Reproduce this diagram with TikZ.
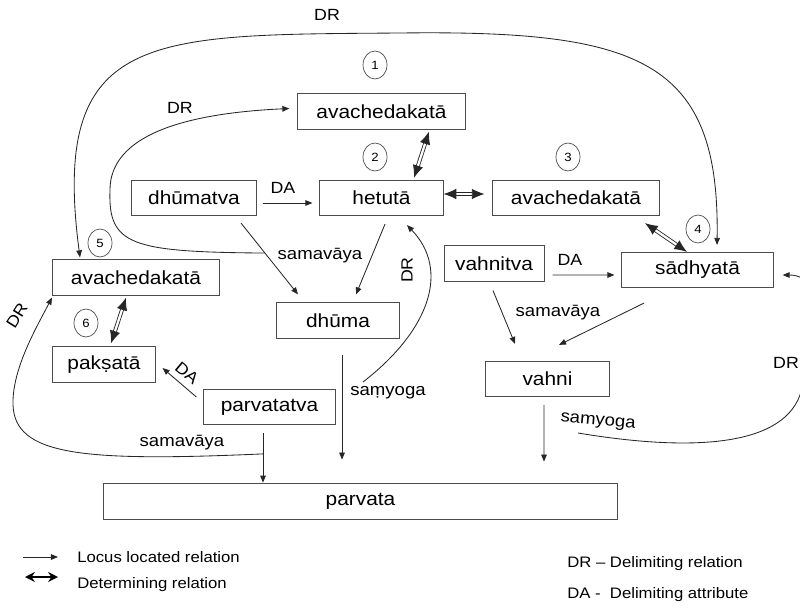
\documentclass[tikz,border=0pt]{standalone}
\usepackage{fontspec}
\setmainfont{Liberation Sans}[FakeStretch=1.1]
\usetikzlibrary{arrows.meta,shapes.geometric}

\begin{document}
\begin{tikzpicture}[x=0.025cm, y=0.025cm,
    box/.style={draw=black!70, line width=0.7pt, minimum height=0.88cm, inner sep=0pt,
      font=\fontsize{13.5}{16}\selectfont},
    num/.style={draw=black!70, ellipse, line width=0.5pt, minimum width=0.6cm, minimum height=0.7cm,
      inner sep=0pt, font=\fontsize{8.5}{9}\selectfont},
    lr/.style={draw=black!85, line width=0.6pt, -{Triangle[length=5pt,width=4pt]}},
    det/.style={draw=black!85, line width=0.6pt, double=white, double distance=1.6pt,
      {Latex[length=9pt,width=7.5pt]}-{Latex[length=9pt,width=7.5pt]}},
    lbl/.style={font=\fontsize{12}{14}\selectfont},
    abbr/.style={font=\fontsize{11.5}{13}\selectfont, inner sep=1pt},
    key/.style={anchor=west, inner sep=0pt, font=\fontsize{10.8}{13}\selectfont}]
      \useasboundingbox (0, 0) rectangle (800, -610);
      \node[box, minimum width=4.18cm] (avA) at (381.5, -111.5) {avachedakatā};
      \node[box, minimum width=3.1cm] (dhumatva) at (194, -198) {dhūmatva};
      \node[box, minimum width=3.08cm] (hetu) at (381.5, -198) {hetutā};
      \node[box, minimum width=4.15cm] (avB) at (576, -198) {avachedakatā};
      \node[box, minimum width=3.78cm] (sadhya) at (697.5, -270) {sādhyatā};
      \node[box, minimum width=2.5cm] (vahnitva) at (494, -263.5) {vahnitva};
      \node[box, minimum width=4.15cm] (avC) at (136, -277.5) {avachedakatā};
      \node[box, minimum width=3.05cm] (dhuma) at (338, -320.5) {dhūma};
      \node[box, minimum width=3.08cm] (vahni) at (547.5, -379) {vahni};
      \node[box, minimum width=2.55cm] (paksa) at (104, -364.5) {pakṣatā};
      \node[box, minimum width=3.28cm] (parvatatva) at (269.5, -407) {parvatatva};
      \node[box, minimum width=12.83cm, minimum height=0.92cm] (parvata) at (360.5, -501.5) {parvata};

      \node[num] (n1) at (375, -65) {1};
      \node[num] (n2) at (375, -157) {2};
      \node[num] (n3) at (568, -157) {3};
      \node[num] (n4) at (698, -229) {4};
      \node[num] (n5) at (100, -243) {5};
      \node[num] (n6) at (86, -323) {6};

      \node[abbr] (drTop) at (327, -15) {DR};
      \node[abbr] (drMid) at (180, -108) {DR};
      \node[abbr] (daA) at (283, -188) {DA};
      \node[lbl] (samA) at (320, -256) {samavāya};
      \node[abbr, rotate=90] (drHet) at (407, -270) {DR};
      \node[lbl] (samyA) at (388, -393) {saṃyoga};
      \node[abbr] (daB) at (570, -260) {DA};
      \node[lbl] (samB) at (558, -313) {samavāya};
      \node[lbl, rotate=-5] (samyB) at (598, -422) {samyoga};
      \node[abbr] (drRight) at (786, -363) {DR};
      \node[abbr, rotate=-40] (daC) at (187, -373) {DA};
      \node[lbl] (samC) at (182, -443) {samavāya};
      \node[abbr, rotate=58] (drLeft) at (17, -316) {DR};

      \draw[lr] ([shift={(6, -5)}]dhumatva.east) -- ([shift={(-7, -5)}]hetu.west);
      \draw[det] ([shift={(0, 4)}]hetu.east) -- ([shift={(-8, 4)}]avB.west);
      \draw[det] ([shift={(47.5, -2)}]avA.south) -- ([shift={(32.5, 2)}]hetu.north);
      \draw[det] ([shift={(69, -7)}]avB.south) -- ([shift={(-10.5, 0)}]sadhya.north);
      \draw[det] ([shift={(-10, -2)}]avC.south) -- ([shift={(7, 3)}]paksa.north);
      \draw[lr] ([shift={(47, -7)}]dhumatva.south) -- coordinate[pos=0.42] (drA) ([shift={(-40, 8)}]dhuma.north);
      \draw[lr] ([shift={(3.5, -8)}]hetu.south) -- ([shift={(18, 8)}]dhuma.north);
      \draw[lr] (drA) .. controls (130, -252) and (108, -245) .. (110, -190)
        .. controls (110, -150) and (150, -115) .. ([shift={(-8, 3)}]avA.west);
      \draw[lr, {Triangle[length=5pt,width=4pt]}-{Triangle[length=5pt,width=4pt]}]
        ([shift={(-56, 2)}]avC.north) .. controls (50, -30) and (150, -35) .. (400, -33)
        .. controls (640, -30) and (720, -60) .. ([shift={(19.5, 7)}]sadhya.north);
      \coordinate (drB) at (363, -382);
      \draw[lr] (drB) .. controls (430, -330) and (450, -270) .. ([shift={(25.5, -9)}]hetu.south);
      \draw[lr] ([shift={(4, -16)}]dhuma.south) -- ([shift={(-18.5, 23)}]parvata.north);
      \draw[lr] ([shift={(8, -11.5)}]vahnitva.east) -- ([shift={(-7, -5)}]sadhya.west);
      \draw[lr] ([shift={(-1, -9)}]vahnitva.south) -- ([shift={(-32.5, 17)}]vahni.north);
      \draw[lr] ([shift={(-53.5, -15)}]sadhya.south) -- ([shift={(11.5, 16)}]vahni.north);
      \draw[lr] ([shift={(-3.5, -8)}]vahni.south) -- ([shift={(183.5, 21)}]parvata.north);
      \coordinate (drD) at (578, -433);
      \begin{scope}
        \clip (0, 0) rectangle (800, -610);
        \draw[lr] (drD) .. controls (680, -450) and (780, -450) .. (800, -395)
          .. controls (815, -350) and (830, -275) .. ([shift={(9, -5)}]sadhya.east);
      \end{scope}
      \draw[lr] ([shift={(-7, 10)}]parvatatva.west) -- ([shift={(7, -3.5)}]paksa.east);
      \draw[lr] ([shift={(-6.5, -8)}]parvatatva.south) -- coordinate[pos=0.42] (drC) ([shift={(-97.5, 0)}]parvata.north);
      \draw[lr] (drC) .. controls (80, -462) and (15, -455) .. (13, -405)
        .. controls (12, -370) and (35, -330) .. ([shift={(-84, -2)}]avC.south);

      \coordinate (keyA) at (23, -557);
      \coordinate (keyB) at (58, -557);
      \draw[lr] (keyA) -- (keyB);
      \node[key] (keyLr) at (77, -557) {Locus located relation};
      \coordinate (keyC) at (25, -577);
      \coordinate (keyD) at (58, -577);
      \draw[line width=1.4pt, {Stealth[length=7pt,width=7pt]}-{Stealth[length=7pt,width=7pt]}] (keyC) -- (keyD);
      \node[key] (keyDet) at (77, -585) {Determining relation};
      \node[key] (keyDr) at (567, -564) {DR -- Delimiting relation};
      \node[key] (keyDa) at (567, -595) {DA -\ \ Delimiting attribute};
    \end{tikzpicture}
\end{document}
